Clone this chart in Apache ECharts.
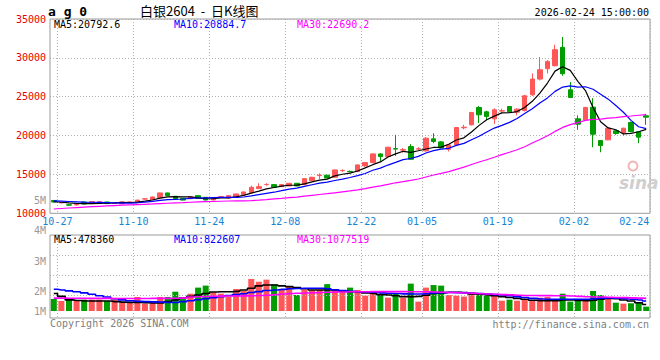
<!DOCTYPE html>
<html><head><meta charset="utf-8">
<script src="https://cdn.jsdelivr.net/npm/echarts@6/dist/echarts.min.js"></script>
<style>html,body{margin:0;padding:0;background:#fff}#c{width:660px;height:360px}</style>
</head><body><div id="c"></div>
<script>
const dates = ['10-24','10-27','10-28','10-29','10-30','10-31',
'11-03','11-04','11-05','11-06','11-07','11-10','11-11','11-12','11-13','11-14','11-17','11-18','11-19','11-20','11-21','11-24','11-25','11-26','11-27','11-28',
'12-01','12-02','12-03','12-04','12-05','12-08','12-09','12-10','12-11','12-12','12-15','12-16','12-17','12-18','12-19','12-22','12-23','12-24','12-25','12-26','12-29','12-30','12-31',
'01-05','01-06','01-07','01-08','01-09','01-12','01-13','01-14','01-15','01-16','01-19','01-20','01-21','01-22','01-23','01-26','01-27','01-28','01-29','01-30',
'02-02','02-03','02-04','02-05','02-06','02-09','02-10','02-11','02-12','02-24'];
const opens = [11650,11340,11100,11080,11450,11380,11450,11450,11250,11220,11400,11370,11830,11760,12010,12616,12186,11929,11880,12272,12057,11713,12100,11971,12143,12401,12659,13174,13690,13690,13432,13518,13862,13690,14206,14850,14900,14640,15480,15400,15370,16096,16526,17643,17299,18320,18130,18589,18260,18030,19577,19190,18245,18804,21000,21382,23616,23057,22155,23150,23745,23014,23229,25249,27268,28601,28987,31351,25893,22155,22026,23659,19362,19448,20608,20393,21683,20479,22542];
const closes = [11450,11380,11050,11130,11200,11500,11480,11250,11320,11450,11460,11700,11860,12100,12620,12272,11885,11700,12140,11928,11713,11929,12140,12272,12487,12745,13346,13432,13720,13346,13690,13862,13518,14463,14635,14900,14550,15580,15520,15360,16225,16526,17643,17299,18503,18260,18190,16956,18310,19663,19233,18417,18804,21038,21080,22972,22670,22456,23315,23200,23057,23401,25120,27268,28472,29546,31050,27956,24905,21468,23616,20178,18718,20952,20264,20952,20522,19792,22370];
const highs = [11720,11450,11200,11250,11480,11550,11550,11480,11350,11480,11520,11720,11950,12150,12660,12650,12200,11950,12180,12350,12080,11960,12230,12300,12520,12780,13560,13860,13860,13720,13720,13900,13900,14500,14700,15150,14950,15620,15650,15500,16300,16600,17700,17700,18550,20093,18400,18900,18500,19800,20307,19300,18900,21100,21380,23050,23800,23200,23500,23450,23800,23500,25250,28000,30104,29700,31694,32683,26882,22600,23700,24819,19400,21000,20700,21000,21800,20550,22800];
const lows = [11400,11300,10950,11000,11150,11350,11400,11220,11220,11200,11350,11350,11750,11720,11980,12250,11850,11650,11860,11900,11680,11690,11990,11950,12120,12380,12640,13150,13550,13320,13400,13500,13480,13650,14150,14400,14500,14600,15350,15250,15300,16000,16450,16655,17250,17385,17800,16900,18100,17950,19018,18350,17950,18750,20800,21300,21597,22026,21511,22900,22950,22600,23100,25100,27100,28000,28900,27700,24850,20737,21900,18503,17858,19400,20100,19964,20400,19018,21382];
const ma5 = [11500,11420,11330,11280,11242,11252,11272,11312,11350,11400,11392,11436,11558,11714,11948,12110,12147,12115,12123,11985,11873,11882,11970,11996,12108,12315,12598,12856,13146,13318,13507,13610,13627,13776,14034,14266,14403,14816,15027,15172,15447,15842,16255,16611,17239,17646,17979,17842,18044,18276,18470,18516,18885,19431,19714,20462,21313,22043,22499,22923,22940,23086,23619,24409,25464,26761,28291,28858,28386,26985,25799,23625,21777,20986,20746,20213,20282,20496,20793];
const ma10 = [11600,11560,11520,11480,11440,11420,11400,11380,11350,11321,11322,11354,11435,11532,11674,11751,11792,11837,11919,11967,11992,12015,12043,12060,12047,12094,12240,12413,12571,12713,12911,13104,13242,13461,13676,13886,14007,14221,14401,14603,14856,15123,15535,15819,16206,16547,16911,17048,17327,17758,18058,18247,18364,18737,18995,19466,19914,20464,20965,21319,21701,22199,22831,23454,24193,24851,25689,26239,26398,26224,26280,25958,25318,24686,23865,23006,21953,21137,20885];
const ma30 = [10550,10620,10680,10740,10800,10850,10900,10950,11000,11040,11080,11120,11160,11200,11250,11290,11330,11370,11420,11460,11490,11520,11550,11580,11610,11600,11640,11690,11760,11850,11925,12008,12090,12201,12315,12420,12520,12640,12760,12880,13003,13164,13357,13530,13726,13926,14080,14240,14417,14674,14925,15141,15364,15656,15942,16283,16594,16895,17214,17543,17855,18173,18560,19037,19498,19988,20538,21050,21413,21667,21963,22085,22121,22242,22301,22441,22519,22613,22690];
const volumes = [1030000,860000,1080000,860000,970000,970000,970000,860000,970000,740000,
740000,1200000,630000,740000,1200000,1200000,1650000,1080000,1480000,2000000,
2170000,1600000,1480000,1200000,1880000,1710000,2740000,2510000,2680000,2280000,
1820000,2110000,1370000,1820000,1770000,1820000,2300000,1800000,1650000,2000000,
1800000,1310000,1510000,1430000,1140000,1510000,1140000,2340000,800000,2000000,
2220000,2170000,1370000,1310000,1230000,1600000,1430000,1310000,1310000,880000,
970000,880000,940000,940000,1140000,1200000,910000,1480000,800000,1030000,
1030000,1710000,1370000,1080000,710000,630000,660000,740000,370000];
const volMa5 = [1500000,1250000,950000,900000,860000,860000,860000,860000,800000,760000,740000,740000,700000,680000,680000,800000,940000,1100000,1250000,1370000,1500000,1620000,1650000,1650000,1680000,1800000,1950000,2150000,2220000,2220000,2150000,2080000,2000000,1900000,1800000,1800000,1800000,1800000,1700000,1650000,1650000,1550000,1500000,1400000,1370000,1300000,1230000,1230000,1250000,1350000,1500000,1550000,1600000,1600000,1580000,1450000,1430000,1380000,1300000,1230000,1150000,1080000,1000000,920000,880000,880000,880000,940000,940000,900000,880000,920000,1000000,1080000,1050000,940000,850000,700000,550000];
const volMa10 = [1860000,1800000,1720000,1650000,1550000,1430000,1300000,1200000,1050000,950000,880000,820000,800000,780000,760000,720000,720000,800000,880000,960000,1050000,1140000,1230000,1320000,1400000,1480000,1580000,1660000,1750000,1800000,1850000,1900000,1920000,1940000,1940000,1940000,1900000,1820000,1750000,1680000,1650000,1620000,1600000,1550000,1520000,1500000,1460000,1450000,1450000,1480000,1550000,1570000,1580000,1570000,1550000,1520000,1500000,1450000,1400000,1370000,1300000,1230000,1150000,1080000,1020000,1000000,1000000,1000000,1000000,1000000,1000000,1050000,1100000,1120000,1100000,1050000,1000000,940000,850000];
const volMa30 = [1100000,1100000,1090000,1090000,1080000,1080000,1080000,1080000,1070000,1070000,1070000,1070000,1070000,1080000,1080000,1080000,1090000,1100000,1200000,1220000,1240000,1260000,1270000,1280000,1280000,1290000,1300000,1320000,1350000,1400000,1450000,1500000,1520000,1540000,1560000,1580000,1600000,1620000,1630000,1640000,1650000,1650000,1660000,1660000,1660000,1660000,1660000,1650000,1650000,1640000,1620000,1600000,1580000,1560000,1540000,1520000,1480000,1450000,1430000,1400000,1380000,1350000,1330000,1320000,1310000,1310000,1300000,1300000,1280000,1250000,1220000,1200000,1200000,1180000,1160000,1140000,1120000,1100000,1080000];
const labelDates = ['10-27','11-10','11-24','12-08','12-22','01-05','01-19','02-02','02-24'];
const gridDates = ['10-27','11-10','11-24','12-08','12-22','01-05','01-19','02-02'];
const volGridValues = [4790000, 3080000, 1370000];

const UP = '#ff5757', DOWN = '#009c00';
const MONO = "'DejaVu Sans Mono', monospace";
const dotted = {color:'#b0b0b0', width:1, type:[1,2]};

const chart = echarts.init(document.getElementById('c'), null, {renderer:'svg'});
function txt(x, y, text, fill, extra) {
  return Object.assign({type:'text', x:x, y:y, silent:true, z:100,
    style:Object.assign({text:text, fill:fill, font:'10px ' + MONO, align:'left', verticalAlign:'middle'}, extra || {})});
}
const xCommon = {
  type:'category', data:dates, boundaryGap:true,
  axisLine:{show:false}, axisTick:{show:false},
  splitLine:{show:true, interval:(i, v) => gridDates.includes(v), lineStyle:dotted}
};
chart.setOption({
  animation:false,
  grid:[
    {left:50, top:19, width:600, height:194.3, show:true, borderColor:'#9a9a9a', borderWidth:1},
    {left:50, top:235, width:600, height:83, show:true, borderColor:'#9a9a9a', borderWidth:1}
  ],
  xAxis:[
    Object.assign({}, xCommon, {gridIndex:0,
      axisLabel:{show:true, interval:(i, v) => labelDates.includes(v), margin:3,
        formatter: v => v === '02-24' ? '{e|' + v + '}' : '{n|' + v + '}',
        rich:{
          n:{fontFamily:MONO, fontSize:10, color:'#1484d6', padding:[0,8,0,0]},
          e:{fontFamily:MONO, fontSize:10, color:'#1484d6', padding:[0,24,0,0]}
        }}}),
    Object.assign({}, xCommon, {gridIndex:1, axisLabel:{show:false}})
  ],
  yAxis:[
    {type:'value', gridIndex:0, min:10000, max:35000, interval:5000,
     axisLine:{show:false}, axisTick:{show:false},
     axisLabel:{color:'#e80000', fontFamily:MONO, fontSize:10, margin:4, formatter: v => String(v)},
     splitLine:{show:true, lineStyle:dotted}},
    {type:'value', gridIndex:1, min:-600000, max:6500000,
     axisLine:{show:false}, axisTick:{show:false}, axisLabel:{show:false}, splitLine:{show:false}}
  ],
  series:[
    {type:'candlestick', xAxisIndex:0, yAxisIndex:0, barWidth:5,
     data: dates.map((d, i) => [opens[i], closes[i], lows[i], highs[i]]),
     itemStyle:{color:UP, color0:DOWN, borderColor:UP, borderColor0:DOWN, borderWidth:1}},
    {type:'line', xAxisIndex:0, yAxisIndex:0, data:ma5, showSymbol:false, z:5,
     lineStyle:{color:'#000', width:1.2}},
    {type:'line', xAxisIndex:0, yAxisIndex:0, data:ma10, showSymbol:false, z:5,
     lineStyle:{color:'#0000ff', width:1.2}},
    {type:'line', xAxisIndex:0, yAxisIndex:0, data:ma30, showSymbol:false, z:5,
     lineStyle:{color:'#ff00ff', width:1.2}},
    {type:'bar', xAxisIndex:1, yAxisIndex:1, barWidth:6, data:volumes,
     itemStyle:{color: p => closes[p.dataIndex] >= opens[p.dataIndex] ? UP : DOWN},
     markLine:{silent:true, symbol:['none','none'], label:{show:false}, lineStyle:dotted,
       data: volGridValues.map(v => ({yAxis:v}))}},
    {type:'line', xAxisIndex:1, yAxisIndex:1, data:volMa5, showSymbol:false, step:'middle', z:5,
     lineStyle:{color:'#000', width:1.6}},
    {type:'line', xAxisIndex:1, yAxisIndex:1, data:volMa10, showSymbol:false, step:'middle', z:5,
     lineStyle:{color:'#0000ff', width:1.6}},
    {type:'line', xAxisIndex:1, yAxisIndex:1, data:volMa30, showSymbol:false, step:'middle', z:5,
     lineStyle:{color:'#ff00ff', width:1.6}}
  ],
  graphic:[
    txt(48, 11, 'a g 0', '#000', {font:'bold 13px ' + MONO}),
    txt(140, 10, '白银2604  -  日K线图', '#000', {font:"13px 'Noto Sans CJK SC'"}),
    txt(649, 12, '2026-02-24 15:00:00', '#000', {align:'right'}),
    txt(54, 24, 'MA5:20792.6', '#000'),
    txt(174, 24, 'MA10:20884.7', '#0000ff'),
    txt(297, 24, 'MA30:22690.2', '#ff00ff'),
    txt(54, 239, 'MA5:478360', '#000'),
    txt(174, 239, 'MA10:822607', '#0000ff'),
    txt(297, 239, 'MA30:1077519', '#ff00ff'),
    txt(46, 200, '5M', '#999', {align:'right'}),
    txt(46, 230, '4M', '#999', {align:'right'}),
    txt(46, 261, '3M', '#999', {align:'right'}),
    txt(46, 291, '2M', '#999', {align:'right'}),
    txt(46, 311, '1M', '#999', {align:'right'}),
    txt(50, 323, 'Copyright 2026 SINA.COM', '#808080'),
    txt(649, 324, 'http://finance.sina.com.cn', '#808080', {align:'right'}),
    {type:'circle', shape:{cx:633, cy:166, r:4.5}, silent:true, z:1,
     style:{fill:'none', stroke:'#f2b6b6', lineWidth:2}},
    txt(619, 183, 'sina', '#cfcfcf', {font:"italic bold 17px 'DejaVu Sans'"})
  ]
});
</script>
</body></html>
